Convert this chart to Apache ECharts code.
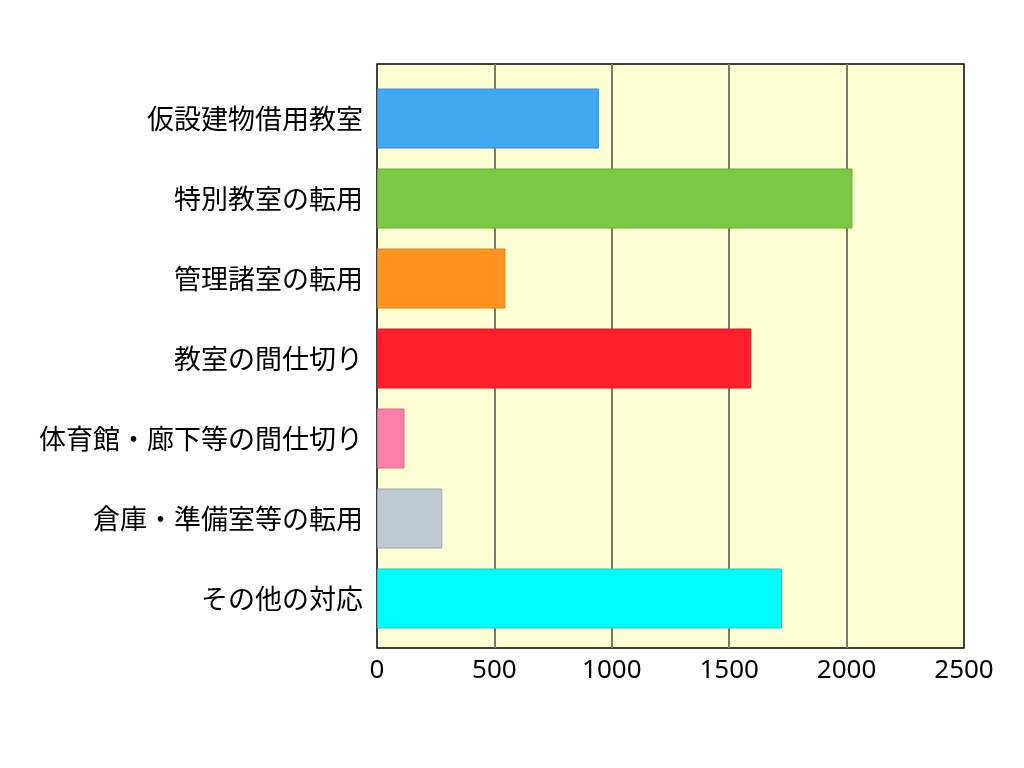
<!DOCTYPE html>
<html>
<head>
<meta charset="utf-8">
<script src="https://cdn.jsdelivr.net/npm/echarts@6/dist/echarts.min.js"></script>
<style>
  html, body { margin: 0; padding: 0; background: #fff; }
  #chart { width: 1024px; height: 768px; }
</style>
</head>
<body>
<div id="chart"></div>
<script>
// data
var categories = [
  '仮設建物借用教室',
  '特別教室の転用',
  '管理諸室の転用',
  '教室の間仕切り',
  '体育館・廊下等の間仕切り',
  '倉庫・準備室等の転用',
  'その他の対応'
];
var values = [945, 2025, 547, 1594, 117, 278, 1725];
var colors = ['#41a8f2', '#7dc943', '#ff9520', '#ff1f2a', '#ff7fab', '#bfcbd2', '#00ffff'];
var borders = ['#3a8ccc', '#6aa83a', '#d9801c', '#d01a24', '#d06a8c', '#9aa6ad', '#20c8c8'];
var xTicks = { min: 0, max: 2500, interval: 500 };

var chart = echarts.init(document.getElementById('chart'));

chart.setOption({
  animation: false,
  grid: [
    // frame, background and vertical lines
    { left: 377, top: 64, width: 587, height: 584, show: true,
      backgroundColor: '#ffffd6', borderColor: '#000', borderWidth: 1.5 },
    // bars
    { left: 377, top: 78.5, width: 587, height: 560 }
  ],
  xAxis: [
    {
      gridIndex: 0, type: 'value',
      min: xTicks.min, max: xTicks.max, interval: xTicks.interval,
      axisLine: { show: false },
      axisTick: { show: false },
      axisLabel: {
        fontSize: 26, color: '#000', margin: 10, fontFamily: 'Noto Sans',
        formatter: function (v) { return String(v); }
      },
      splitLine: { showMinLine: false, showMaxLine: false, lineStyle: { color: '#7a7a68', width: 2 } }
    },
    {
      gridIndex: 1, type: 'value',
      min: xTicks.min, max: xTicks.max,
      show: false
    }
  ],
  yAxis: [
    { gridIndex: 0, type: 'value', show: false },
    {
      gridIndex: 1, type: 'category', data: categories, inverse: true,
      axisLine: { show: false },
      axisTick: { show: false },
      axisLabel: { fontSize: 27, color: '#000', margin: 14, fontFamily: 'Noto Sans CJK JP' }
    }
  ],
  series: [{
    type: 'bar',
    xAxisIndex: 1, yAxisIndex: 1,
    barWidth: 60,
    data: values.map(function (v, i) {
      return { value: v, itemStyle: { color: colors[i], borderColor: borders[i], borderWidth: 1 } };
    })
  }]
});
</script>
</body>
</html>
